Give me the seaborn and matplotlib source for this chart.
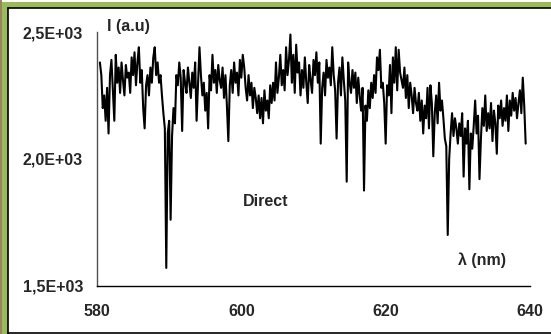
"""
plot.py
Emission spectrum ("Direct") between 580 and 640 nm, redrawn with seaborn.
"""

import matplotlib

matplotlib.use("Agg")
import matplotlib.pyplot as plt
import numpy as np
import pandas as pd
import seaborn as sns
from matplotlib.patches import Rectangle
from matplotlib.ticker import FuncFormatter

# --- Data (0.2 nm sampling from 580.4 to 639.4 nm) ---
WL_START = 580.4
WL_STEP = 0.2
INTENSITY = [
    2380, 2330, 2200, 2250, 2150, 2280, 2100, 2330, 2390, 2270,
    2150, 2410, 2300, 2360, 2260, 2380, 2310, 2250, 2370, 2320,
    2340, 2260, 2400, 2330, 2420, 2290, 2380, 2440, 2300, 2350,
    2200, 2120, 2290, 2330, 2250, 2360, 2300, 2400, 2440, 2330,
    2380, 2300, 2330, 2250, 2180, 2120, 1570, 2100, 2150, 1760,
    2090, 2200, 2140, 2330, 2290, 2380, 2320, 2110, 2350, 2300,
    2260, 2360, 2300, 2240, 2340, 2280, 2380, 2150, 2300, 2440,
    2330, 2250, 2300, 2190, 2260, 2120, 2330, 2270, 2410, 2300,
    2350, 2260, 2370, 2310, 2280, 2360, 2240, 2330, 2210, 2070,
    2290, 2350, 2260, 2380, 2300, 2340, 2250, 2390, 2320, 2410,
    2360, 2280, 2230, 2330, 2250, 2300, 2200, 2280, 2240, 2180,
    2250, 2160, 2240, 2140, 2270, 2190, 2230, 2160, 2290, 2220,
    2300, 2230, 2380, 2260, 2320, 2410, 2290, 2350, 2270, 2440,
    2330, 2390, 2490, 2300, 2410, 2260, 2450, 2340, 2380, 2250,
    2350, 2280, 2400, 2300, 2220, 2370, 2310, 2260, 2390, 2330,
    2420, 2300, 2380, 2060, 2280, 2340, 2250, 2390, 2320, 2360,
    2290, 2440, 2330, 2270, 2080, 2300, 2360, 2250, 2400, 2310,
    2230, 1910, 2380, 2300, 2260, 2350, 2280, 2340, 2220, 2320,
    2250, 2190, 2280, 1875, 2210, 2150, 2270, 2200, 2300, 2240,
    2330, 2260, 2400, 2350, 2430, 2280, 2300, 2220, 2060, 2290,
    2250, 2370, 2180, 2400, 2300, 2440, 2270, 2430, 2340, 2310,
    2280, 2360, 2240, 2330, 2200, 2300, 2250, 2180, 2280, 2220,
    2190, 2260, 2150, 2230, 2100, 2210, 2160, 2280, 2120, 2290,
    2220, 2010, 2180, 2250, 2140, 2300, 2190, 2230, 2160, 2080,
    2050, 1700, 2000, 2100, 2180, 2090, 2160, 2120, 2060, 2140,
    2090, 2180, 1930, 2120, 2060, 2150, 1880, 2100, 2040, 2130,
    2230, 2100, 2170, 1920, 2080, 2200, 2130, 2250, 2110, 2180,
    2120, 2220, 2070, 2190, 2140, 2020, 2210, 2160, 2230, 2130,
    2200, 2150, 2250, 2110, 2230, 2170, 2260, 2190, 2240, 2160,
    2220, 2270, 2180, 2320, 2210, 2060,
]
X_TICKS = [580, 600, 620, 640]
Y_TICKS = [1500, 2000, 2500]
Y_LABEL = "I (a.u)"
X_LABEL = "\u03bb (nm)"
SERIES_LABEL = "Direct"

wavelength = np.round(WL_START + WL_STEP * np.arange(len(INTENSITY)), 1)
df = pd.DataFrame({"wavelength": wavelength, "intensity": INTENSITY})

sns.set_style("white")
plt.rcParams["font.family"] = ["Liberation Sans", "DejaVu Sans"]
plt.rcParams["font.weight"] = "bold"

FS = 11.5

fig = plt.figure(figsize=(5.51, 3.34), dpi=100)

# frame around the chart (green slide border + black rule)
W, H = 551, 334
fig.patches.append(Rectangle((0, 0), 1, 1, transform=fig.transFigure,
                             facecolor="white", edgecolor="none", zorder=-3))
fig.patches.append(Rectangle((0, 0), 2 / W, 1, transform=fig.transFigure,
                             facecolor="#9a8360", edgecolor="none", zorder=-2))
fig.patches.append(Rectangle((2 / W, 0), 6 / W, 1 - 2 / H, transform=fig.transFigure,
                             facecolor="#9bbb59", edgecolor="none", zorder=-2))
fig.patches.append(Rectangle((2 / W, 1 - 8 / H), 1, 6 / H, transform=fig.transFigure,
                             facecolor="#9bbb59", edgecolor="none", zorder=-2))
fig.add_artist(plt.Line2D([8 / W, 8 / W], [0, 1 - 8 / H], transform=fig.transFigure,
                          color="black", lw=1.2))
fig.add_artist(plt.Line2D([8 / W, 1], [1 - 8 / H, 1 - 8 / H], transform=fig.transFigure,
                          color="black", lw=1.2))
fig.add_artist(plt.Line2D([8 / W, 1], [1 / H, 1 / H], transform=fig.transFigure,
                          color="black", lw=1.2))

ax = fig.add_axes([97 / W, 48.3 / H, (530 - 97) / W, (302 - 48.3) / H])
ax.patch.set_alpha(0)

sns.lineplot(data=df, x="wavelength", y="intensity", ax=ax,
             color="black", linewidth=1.5, estimator=None)

ax.set_xlim(580, 640)
ax.set_ylim(1500, 2500)
ax.set_xticks(X_TICKS)
ax.set_yticks(Y_TICKS)
ax.yaxis.set_major_formatter(FuncFormatter(lambda v, _: f"{v:.1E}".replace(".", ",")))
ax.set_xlabel("")
ax.set_ylabel("")

for side in ("top", "right"):
    ax.spines[side].set_visible(False)
ax.spines["left"].set_color("#505050")
ax.spines["bottom"].set_color("black")
ax.spines["left"].set_linewidth(1.0)
ax.spines["bottom"].set_linewidth(1.0)

ax.tick_params(axis="x", direction="out", length=4, width=1, pad=9,
               labelsize=FS, color="black")
ax.tick_params(axis="y", direction="out", length=4, width=1, pad=6,
               labelsize=FS, color="#505050")
for lbl in ax.get_xticklabels() + ax.get_yticklabels():
    lbl.set_fontweight("bold")

ax.text(581.4, 2522, Y_LABEL, fontsize=FS, fontweight="bold",
        ha="left", va="center", clip_on=False)
ax.text(630.0, 1600, X_LABEL, fontsize=FS, fontweight="bold",
        ha="left", va="center")
ax.text(600.2, 1830, SERIES_LABEL, fontsize=FS, fontweight="bold",
        ha="left", va="center")

fig.savefig("out.png", dpi=100)
